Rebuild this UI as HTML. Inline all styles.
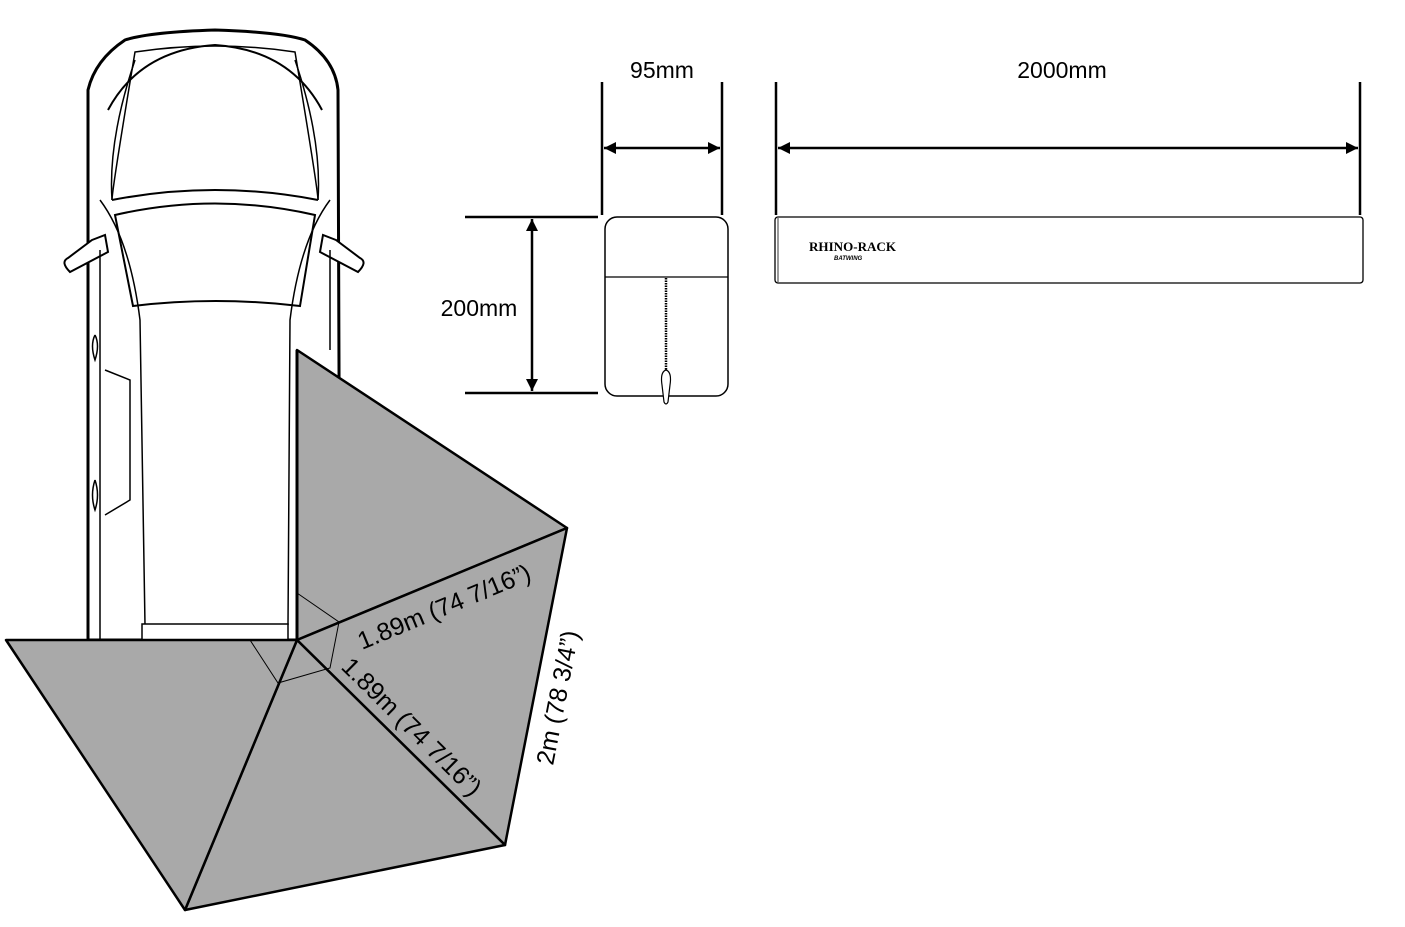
<!DOCTYPE html>
<html><head><meta charset="utf-8"><style>
html,body{margin:0;padding:0;background:#fff;}
svg{display:block;}
text{font-family:"Liberation Sans",Arial,sans-serif;fill:#000;}
</style></head><body>
<svg width="1405" height="927" viewBox="0 0 1405 927" xmlns="http://www.w3.org/2000/svg">
<defs>
<marker id="ah2" viewBox="0 0 10 10" refX="10" refY="5" markerWidth="18" markerHeight="12" orient="auto-start-reverse" markerUnits="userSpaceOnUse">
<path d="M0,0 L10,5 L0,10 Z" fill="#000"/></marker>
</defs>

<!-- Car -->
<g fill="none" stroke="#000" stroke-width="2">
<path d="M88,90 Q95,60 125,40 Q150,32 215,30 Q280,32 305,40 Q335,60 338,90 L340,640 L88,640 Z" fill="#fff" stroke-width="3"/>
<path d="M108,110 Q140,50 215,45 Q290,50 322,110"/>
<path d="M112,200 Q108,140 135,60 M318,200 Q322,140 295,60" stroke-width="1.5"/>
<path d="M112,200 Q112,190 135,52 Q215,40 295,52 Q318,190 318,200" stroke-width="1.5"/>
<path d="M112,200 Q215,180 318,200" stroke-width="2"/>
<path d="M115,215 Q215,192 315,215 L300,306 Q215,296 133,306 Z" fill="#fff"/>
<path d="M100,200 Q130,240 140,320 L145,625 M330,200 Q300,240 290,320 L288,625" stroke-width="1.5"/>
<path d="M92,240 L105,235 L108,252 L70,272 Q60,262 68,258 Z" fill="#fff"/>
<path d="M336,240 L323,235 L320,252 L358,272 Q368,262 360,258 Z" fill="#fff"/>
<path d="M100,250 L100,640 M330,250 L330,350" stroke-width="1.5"/>
<path d="M105,370 L130,380 L130,500 L105,515" stroke-width="1.5"/>
<rect x="142" y="624" width="146" height="16" fill="#fff" stroke-width="1.5"/>
<path d="M95,335 Q100,345 95,360 Q90,345 95,335 M95,480 Q100,495 95,510 Q90,495 95,480" stroke-width="1.5"/>
</g>

<!-- Awning -->
<g fill="#a9a9a9" stroke="#000" stroke-width="2.5" stroke-linejoin="round">
<polygon points="297,350 567,528 297,640"/>
<polygon points="297,640 567,528 505,845"/>
<polygon points="297,640 505,845 185,910"/>
<polygon points="297,640 185,910 6,640"/>
</g>
<line x1="297" y1="350" x2="297" y2="640" stroke="#000" stroke-width="3"/>
<g stroke="#000" stroke-width="1" fill="none">
<path d="M297,593 L339,622 L330,668 L278,683 L250,640"/>
</g>
<text font-size="25" transform="translate(362,650) rotate(-22.5)">1.89m (74 7/16”)</text>
<text font-size="25" transform="translate(340,668) rotate(44.6)">1.89m (74 7/16”)</text>
<text font-size="25" transform="translate(553,766) rotate(-79)">2m (78 3/4”)</text>

<!-- Dimensions -->
<g stroke="#000" stroke-width="2.5">
<line x1="602" y1="82" x2="602" y2="215"/>
<line x1="722" y1="82" x2="722" y2="215"/>
<line x1="776" y1="82" x2="776" y2="215"/>
<line x1="1360" y1="82" x2="1360" y2="215"/>
<line x1="465" y1="217" x2="598" y2="217"/>
<line x1="465" y1="393" x2="598" y2="393"/>
</g>
<g stroke="#000" stroke-width="2.5">
<line x1="604" y1="148" x2="720" y2="148" marker-start="url(#ah2)" marker-end="url(#ah2)"/>
<line x1="778" y1="148" x2="1358" y2="148" marker-start="url(#ah2)" marker-end="url(#ah2)"/>
<line x1="532" y1="219" x2="532" y2="391" marker-start="url(#ah2)" marker-end="url(#ah2)"/>
</g>
<text x="662" y="78" font-size="23" text-anchor="middle">95mm</text>
<text x="1062" y="78" font-size="23" text-anchor="middle">2000mm</text>
<text x="479" y="316" font-size="23" text-anchor="middle">200mm</text>

<!-- Bag -->
<rect x="605" y="217" width="123" height="179" rx="12" fill="#fff" stroke="#000" stroke-width="1.5"/>
<line x1="605" y1="277" x2="728" y2="277" stroke="#000" stroke-width="1.2"/>
<line x1="666" y1="278" x2="666" y2="372" stroke="#000" stroke-width="2.5" stroke-dasharray="1.5,1"/>
<path d="M666,370 Q672,372 670,385 L668,402 Q666,406 664,402 L662,385 Q660,372 666,370 Z" fill="#fff" stroke="#000" stroke-width="1.2"/>

<!-- Bar -->
<rect x="775" y="217" width="588" height="66" rx="3" fill="#fff" stroke="#000" stroke-width="1.3"/>
<line x1="778" y1="218" x2="778" y2="282" stroke="#000" stroke-width="0.8"/>
<text x="809" y="251" font-size="12.5" font-weight="bold" style="font-family:'Liberation Serif',serif" textLength="87" lengthAdjust="spacingAndGlyphs">RHINO-RACK</text>
<text x="834" y="260" font-size="6" font-weight="bold" font-style="italic">BATWING</text>
</svg>
</body></html>
